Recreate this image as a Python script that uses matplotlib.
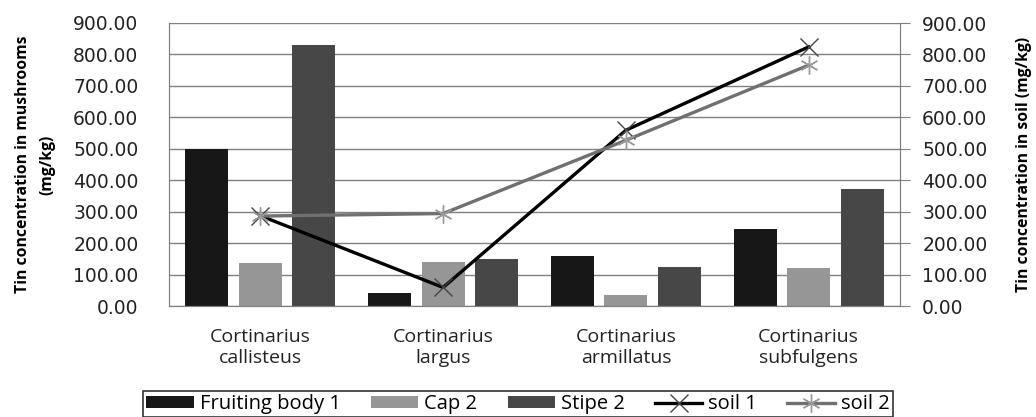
import numpy as np
import matplotlib.pyplot as plt

species = ["Cortinarius\ncallisteus", "Cortinarius\nlargus",
           "Cortinarius\narmillatus", "Cortinarius\nsubfulgens"]
fruiting_body = [500, 42, 159, 245]
cap = [136, 139, 36, 122]
stipe = [831, 148, 124, 372]
soil_1 = [287, 59, 559, 824]
soil_2 = [286, 294, 527, 766]

fig = plt.figure(figsize=(10.36, 4.17), dpi=100)
ax = fig.add_axes([169 / 1036, 1 - 306 / 417, 731 / 1036, 283 / 417])
ax2 = ax.twinx()

x = np.arange(len(species))
w = 0.235
off = 0.293
ax.bar(x - off, fruiting_body, w, color="#171717", label="Fruiting body 1", zorder=2)
ax.bar(x, cap, w, color="#969696", label="Cap 2", zorder=2)
ax.bar(x + off, stipe, w, color="#474747", label="Stipe 2", zorder=2)

ax2.plot(x, soil_1, color="black", lw=2.4, marker="x", ms=13, mew=1.0,
         mec="#444444", label="soil 1", zorder=3)
ax2.plot(x, soil_2, color="#707070", lw=2.4, marker=(6, 2, 0), ms=13, mew=1.0,
         mec="#999999", label="soil 2", zorder=3)

ticks = np.arange(0, 901, 100)
for a in (ax, ax2):
    a.set_ylim(0, 900)
    a.set_yticks(ticks)
    a.set_yticklabels([f"{t:.2f}" for t in ticks], fontsize=13.5,
                      family="DejaVu Sans", color="#222222")
    for s in a.spines.values():
        s.set_color("#808080")
    a.spines["top"].set_visible(False)

ax.set_xlim(-0.5, 3.5)
ax.set_xticks(x)
ax.set_xticklabels(species, fontsize=14, family="Open Sans", color="#222222",
                   linespacing=1.2)
ax.tick_params(axis="x", length=0, pad=16)
ax.tick_params(axis="y", length=0, pad=22)
ax2.tick_params(axis="y", length=7, pad=9, color="#808080")
ax.grid(axis="y", color="#808080", lw=1, zorder=0)
ax.set_axisbelow(True)

ax.set_ylabel("Tin concentration in mushrooms\n(mg/kg)", fontsize=11.3,
              family="Open Sans", fontweight="bold", linespacing=1.75)
ax.yaxis.set_label_coords(-0.155, 0.5)
ax2.set_ylabel("Tin concentration in soil (mg/kg)", fontsize=11.3,
               family="Open Sans", fontweight="bold", rotation=90)
ax2.yaxis.set_label_coords(1.159, 0.5)

h1, l1 = ax.get_legend_handles_labels()
h2, l2 = ax2.get_legend_handles_labels()
leg = fig.legend(h1 + h2, l1 + l2, loc="upper center",
                 bbox_to_anchor=(518 / 1036, 1 - 391 / 417), ncol=5,
                 frameon=True, fancybox=False, edgecolor="black",
                 prop={"family": "Open Sans", "size": 14.5},
                 handlelength=2.35, handleheight=0.5, handletextpad=0.3,
                 columnspacing=1.5, borderpad=0.15, borderaxespad=0)
leg.get_frame().set_linewidth(1.2)

fig.savefig("out.png", dpi=100)
